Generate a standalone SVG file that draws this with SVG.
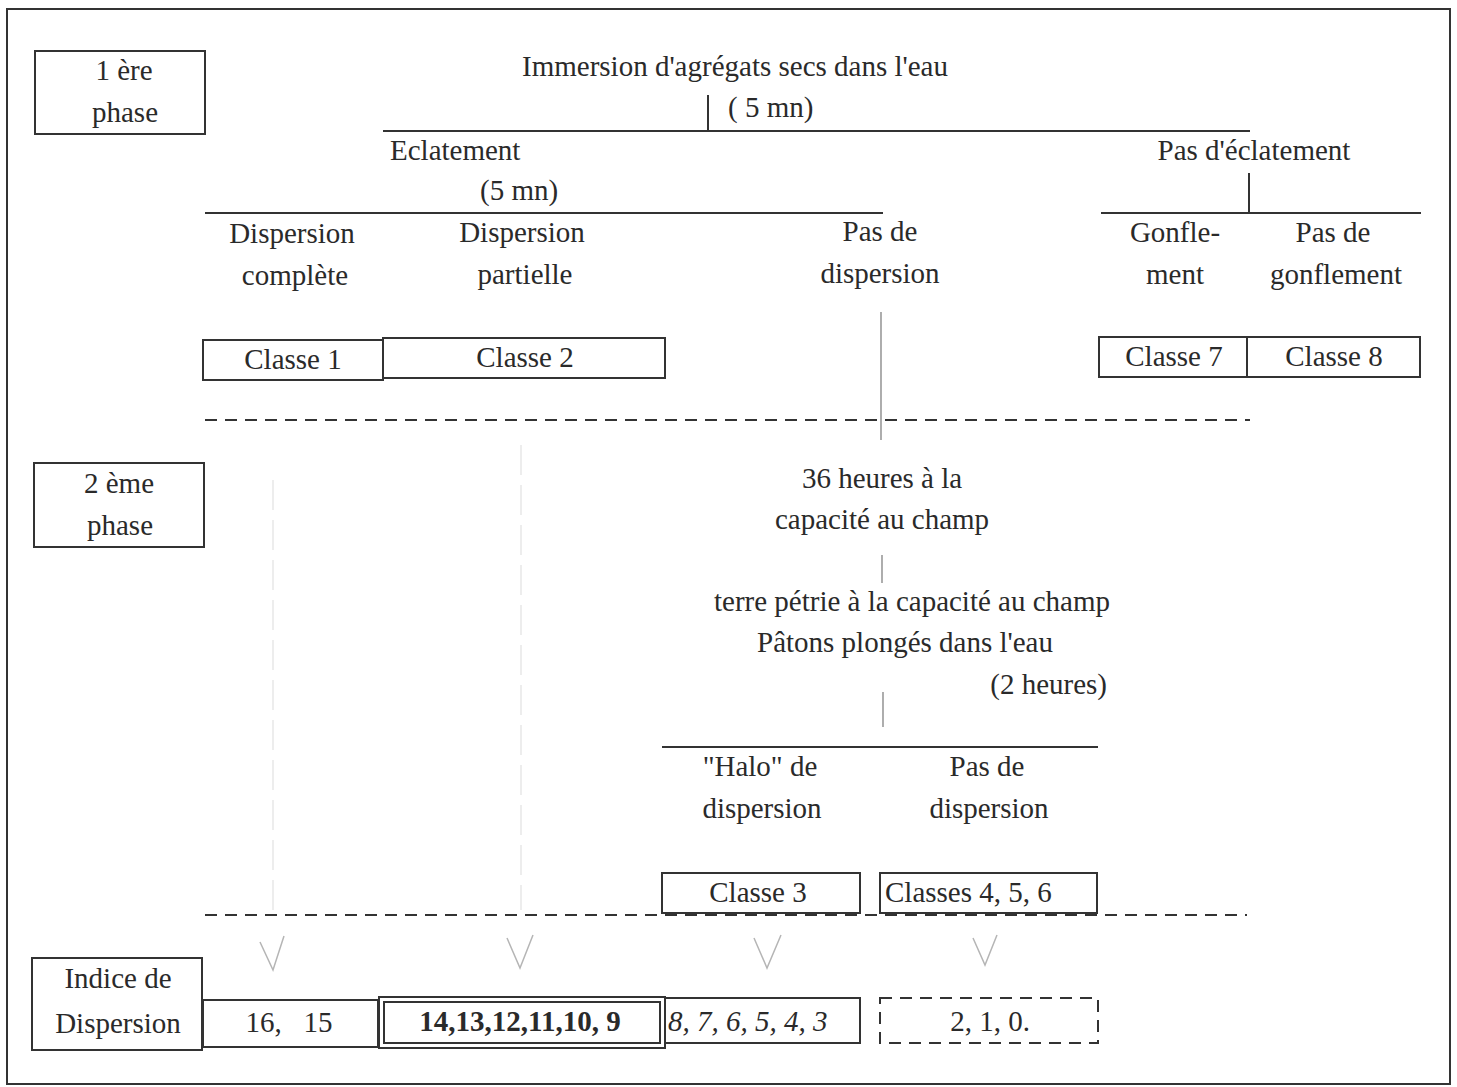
<svg xmlns="http://www.w3.org/2000/svg" width="1457" height="1087" viewBox="0 0 1457 1087">
<style>
text{font-family:"Liberation Serif","Times New Roman",serif;font-size:29px;fill:#2a2a2a}
.c{text-anchor:middle}
.box{fill:#fff;stroke:#333;stroke-width:2}
.ln{stroke:#333;stroke-width:2;fill:none}
.thin{stroke:#777;stroke-width:1.2;fill:none}
.dash{stroke:#333;stroke-width:2;stroke-dasharray:12 8;fill:none}
.faint{stroke:#ededed;stroke-width:2;stroke-dasharray:30 10;fill:none}
.v{stroke:#b5b5b5;stroke-width:1.5;fill:none}
</style>
<rect x="0" y="0" width="1457" height="1087" fill="#fff"/>
<rect x="7" y="9" width="1443" height="1075" class="ln" stroke-width="2"/>

<g id="connectors">
<line x1="708" y1="95" x2="708" y2="131" class="ln" stroke-width="1.5"/>
<line x1="383" y1="131" x2="1250" y2="131" class="ln"/>
<line x1="205" y1="213" x2="883" y2="213" class="ln"/>
<line x1="1249" y1="173" x2="1249" y2="213" class="ln"/>
<line x1="1101" y1="213" x2="1421" y2="213" class="ln"/>
<line x1="881" y1="312" x2="881" y2="440" class="thin"/>
<line x1="205" y1="420" x2="1250" y2="420" class="dash"/>
<line x1="882" y1="555" x2="882" y2="583" class="thin"/>
<line x1="883" y1="692" x2="883" y2="727" class="thin"/>
<line x1="662" y1="747" x2="1098" y2="747" class="ln"/>
<line x1="273" y1="480" x2="273" y2="910" class="faint"/>
<line x1="521" y1="445" x2="521" y2="910" class="faint"/>
<line x1="205" y1="915" x2="1247" y2="915" class="dash"/>
<polyline points="260,942 273,970 284,936" class="v"/>
<polyline points="507,938 520,968 533,935" class="v"/>
<polyline points="754,938 767,968 781,935" class="v"/>
<polyline points="973,938 985,965 997,935" class="v"/>
</g>

<g id="phase1">
<rect x="35" y="51" width="170" height="83" class="box"/>
<text x="124" y="80" class="c">1 ère</text>
<text x="125" y="122" class="c">phase</text>
</g>
<g id="immersion">
<text x="735" y="76" class="c">Immersion d'agrégats secs dans l'eau</text>
<text x="728" y="117">( 5 mn)</text>
</g>
<g id="eclatement">
<text x="390" y="160">Eclatement</text>
<text x="480" y="200">(5 mn)</text>
</g>
<g id="pas-eclatement">
<text x="1254" y="160" class="c">Pas d'éclatement</text>
</g>
<g id="disp-complete">
<text x="292" y="243" class="c">Dispersion</text>
<text x="295" y="285" class="c">complète</text>
</g>
<g id="disp-partielle">
<text x="522" y="242" class="c">Dispersion</text>
<text x="525" y="284" class="c">partielle</text>
</g>
<g id="pas-dispersion-1">
<text x="880" y="241" class="c">Pas de</text>
<text x="880" y="283" class="c">dispersion</text>
</g>
<g id="gonflement">
<text x="1175" y="242" class="c">Gonfle-</text>
<text x="1175" y="284" class="c">ment</text>
</g>
<g id="pas-gonflement">
<text x="1333" y="242" class="c">Pas de</text>
<text x="1336" y="284" class="c">gonflement</text>
</g>
<g id="classe1">
<rect x="203" y="340" width="180" height="40" class="box"/>
<text x="293" y="369" class="c">Classe 1</text>
</g>
<g id="classe2">
<rect x="383" y="338" width="282" height="40" class="box"/>
<text x="525" y="367" class="c">Classe 2</text>
</g>
<g id="classe7">
<rect x="1099" y="337" width="148" height="40" class="box"/>
<text x="1174" y="366" class="c">Classe 7</text>
</g>
<g id="classe8">
<rect x="1247" y="337" width="173" height="40" class="box"/>
<text x="1334" y="366" class="c">Classe 8</text>
</g>
<g id="phase2">
<rect x="34" y="463" width="170" height="84" class="box"/>
<text x="119" y="493" class="c">2 ème</text>
<text x="120" y="535" class="c">phase</text>
</g>
<g id="heures36">
<text x="882" y="488" class="c">36 heures à la</text>
<text x="882" y="529" class="c">capacité au champ</text>
</g>
<g id="terre">
<text x="912" y="611" class="c">terre pétrie à la capacité au champ</text>
<text x="905" y="652" class="c">Pâtons plongés dans l'eau</text>
<text x="1107" y="694" text-anchor="end">(2 heures)</text>
</g>
<g id="halo">
<text x="760" y="776" class="c">"Halo" de</text>
<text x="762" y="818" class="c">dispersion</text>
</g>
<g id="pas-dispersion-2">
<text x="987" y="776" class="c">Pas de</text>
<text x="989" y="818" class="c">dispersion</text>
</g>
<g id="classe3">
<rect x="662" y="873" width="198" height="40" class="box"/>
<text x="758" y="902" class="c">Classe 3</text>
</g>
<g id="classes456">
<rect x="880" y="873" width="217" height="40" class="box"/>
<text x="885" y="902">Classes 4, 5, 6</text>
</g>
<g id="indice">
<rect x="32" y="958" width="170" height="92" class="box"/>
<text x="118" y="988" class="c">Indice de</text>
<text x="118" y="1033" class="c">Dispersion</text>
</g>
<g id="idx-16-15">
<rect x="203" y="1000" width="175" height="47" class="box" stroke-width="3.5"/>
<text x="289" y="1032" class="c" xml:space="preserve">16,   15</text>
</g>
<g id="idx-14-9">
<rect x="379" y="997" width="286" height="51" class="box"/>
<rect x="384" y="1002" width="276" height="41" class="box" stroke-width="2.5"/>
<text x="520" y="1031" class="c" font-weight="bold">14,13,12,11,10, 9</text>
</g>
<g id="idx-8-3">
<rect x="665" y="998" width="195" height="45" class="box"/>
<text x="668" y="1031" font-style="italic">8, 7, 6, 5, 4, 3</text>
</g>
<g id="idx-2-0">
<rect x="880" y="998" width="218" height="45" class="dash" stroke-dasharray="10 7"/>
<text x="990" y="1031" class="c">2, 1, 0.</text>
</g>
</svg>
